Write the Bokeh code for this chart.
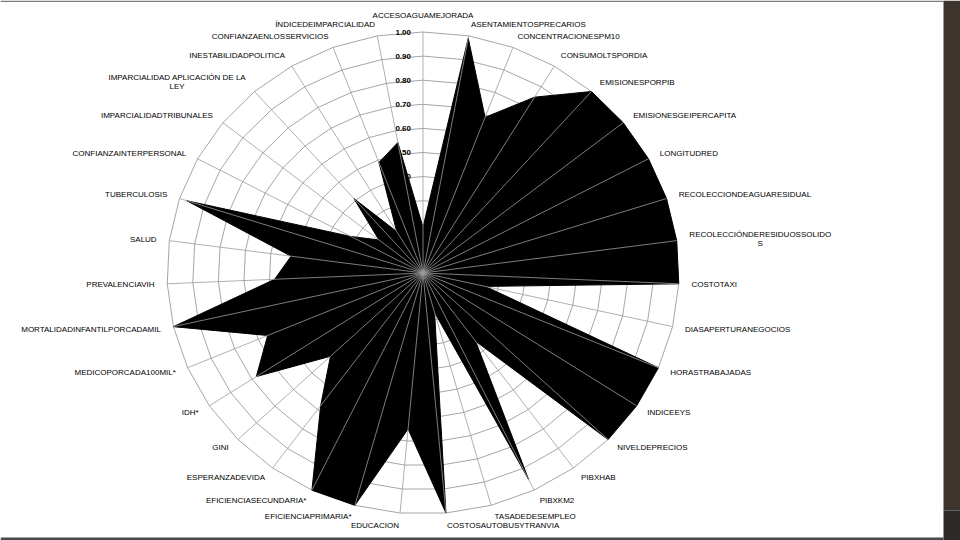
import numpy as np
from bokeh.plotting import figure
from bokeh.models import Range1d, BoxAnnotation
from bokeh.core.properties import value
from bokeh.embed import file_html
from bokeh.resources import INLINE

categories = [
    "ACCESOAGUAMEJORADA", "ASENTAMIENTOSPRECARIOS", "CONCENTRACIONESPM10",
    "CONSUMOLTSPORDIA", "EMISIONESPORPIB", "EMISIONESGEIPERCAPITA", "LONGITUDRED",
    "RECOLECCIONDEAGUARESIDUAL", "RECOLECCIÓNDERESIDUOSSOLIDO\nS", "COSTOTAXI",
    "DIASAPERTURANEGOCIOS", "HORASTRABAJADAS", "INDICEEYS", "NIVELDEPRECIOS",
    "PIBXHAB", "PIBXKM2", "TASADEDESEMPLEO", "COSTOSAUTOBUSYTRANVIA", "EDUCACION",
    "EFICIENCIAPRIMARIA*", "EFICIENCIASECUNDARIA*", "ESPERANZADEVIDA", "GINI", "IDH*",
    "MEDICOPORCADA100MIL*", "MORTALIDADINFANTILPORCADAMIL", "PREVALENCIAVIH", "SALUD",
    "TUBERCULOSIS", "CONFIANZAINTERPERSONAL", "IMPARCIALIDADTRIBUNALES",
    "IMPARCIALIDAD APLICACIÓN DE LA\nLEY", "INESTABILIDADPOLITICA",
    "CONFIANZAENLOSSERVICIOS", "ÍNDICEDEIMPARCIALIDAD",
]
values = [
    0.19, 0.99, 0.69, 0.85, 1.00, 1.00, 1.00, 1.00, 1.00, 1.00,
    0.25, 1.00, 1.00, 1.00, 0.35, 0.95, 0.17, 1.00, 0.65, 1.00,
    1.00, 0.68, 0.50, 0.78, 0.66, 1.00, 0.58, 0.52, 0.97, 0.32,
    0.22, 0.41, 0.20, 0.49, 0.55,
]
ticks = [0.1, 0.2, 0.3, 0.4, 0.5, 0.6, 0.7, 0.8, 0.9, 1.0]
tick_labels = ["0.10", "0.20", "0.30", "0.40", "0.50", "0.60", "0.70", "0.80", "0.90", "1.00"]

# screen mapping (center of chart, pixels per unit)
W, H = 960, 540
OFF = 0
CX, CY = 422.5, 272.5
SX, SY = 256.0, 241.0
x0 = -(CX - OFF) / SX
x1 = x0 + W / SX
y1 = (CY - OFF) / SY
y0 = y1 - H / SY

p = figure(width=W, height=H, x_range=Range1d(x0, x1), y_range=Range1d(y0, y1),
           output_backend="svg", toolbar_location=None, min_border=0,
           x_axis_type=None, y_axis_type=None)
p.grid.visible = False
p.outline_line_color = None
p.background_fill_color = "white"
p.border_fill_color = "white"

# slide frame decoration
xr = (943 - CX) / SX
p.add_layout(BoxAnnotation(left=xr, right=x1, top=y1, bottom=(CY - 510) / SY,
                           fill_color="#3d352d", fill_alpha=1, line_color=None))
p.add_layout(BoxAnnotation(left=xr, right=x1, top=(CY - 510) / SY, bottom=y0,
                           fill_color="#2c2b29", fill_alpha=1, line_color=None))
p.add_layout(BoxAnnotation(left=x0, right=xr, top=(CY - 537) / SY, bottom=y0,
                           fill_color="#4a4a4a", fill_alpha=1, line_color=None))
p.add_layout(BoxAnnotation(left=x0, right=xr, top=y1, bottom=(CY - 1.5) / SY,
                           fill_color="#7a7a7a", fill_alpha=1, line_color=None))

N = len(categories)
theta = 2 * np.pi * np.arange(N) / N
s, c = np.sin(theta), np.cos(theta)
grid_col = "#8f8f8f"

# rings
rx, ry = [], []
for t in ticks:
    rx.append(list(np.append(t * s, t * s[0])))
    ry.append(list(np.append(t * c, t * c[0])))
p.multi_line(rx, ry, line_color=grid_col, line_width=0.8)

# axis tick labels
p.text(x=[0.0] * len(ticks), y=ticks, text=tick_labels, text_align="right",
       text_baseline="middle", x_offset=-12, text_font=value("Liberation Sans"),
       text_font_size="8px", text_font_style="bold", text_color="black")

# data polygon
vals = np.array(values)
p.patch(vals * s, vals * c, fill_color="black", line_color="black", line_width=1)

# spokes on top
p.multi_line([[0, float(a)] for a in s], [[0, float(b)] for b in c],
             line_color="#9c9c9c", line_width=0.8)

# category labels
W_ARIAL = {"A": 667, "B": 667, "C": 722, "D": 722, "E": 667, "F": 611, "G": 778, "H": 722,
           "I": 278, "J": 500, "K": 667, "L": 556, "M": 833, "N": 722, "O": 778, "P": 667,
           "Q": 778, "R": 722, "S": 667, "T": 611, "U": 722, "V": 667, "W": 944, "X": 667,
           "Y": 667, "Z": 611, " ": 278, "*": 389, ".": 278, "Ó": 778, "Í": 278}


def text_w(t, size=8.0):
    return sum(W_ARIAL.get(ch, 556) for ch in t) * size / 1000.0


RL = 1.05
for i, lab in enumerate(categories):
    ax, ay = RL * s[i], RL * c[i]
    if abs(s[i]) < 1e-6:
        align = "center"
    elif s[i] > 0:
        align = "left"
    else:
        align = "right"
    lines = lab.split("\n")
    if len(lines) == 1:
        base = "bottom" if (align == "center" and c[i] > 0) else "middle"
        p.text(x=[ax], y=[ay], text=[lab], text_align=align, text_baseline=base,
               text_font=value("Liberation Sans"), text_font_size="8px", text_color="black")
    else:
        w = text_w(lines[0])
        sign = 1 if align == "left" else -1
        n = len(lines)
        for k, ln in enumerate(lines):
            yoff = (k - (n - 1) / 2) * 9
            if k == 0:
                p.text(x=[ax], y=[ay], text=[ln], text_align=align, text_baseline="middle",
                       y_offset=yoff, text_font=value("Liberation Sans"),
                       text_font_size="8px", text_color="black")
            else:
                p.text(x=[ax], y=[ay], text=[ln], text_align="center", text_baseline="middle",
                       x_offset=sign * w / 2, y_offset=yoff, text_font=value("Liberation Sans"),
                       text_font_size="8px", text_color="black")

open("out.html", "w").write(file_html(p, INLINE))
